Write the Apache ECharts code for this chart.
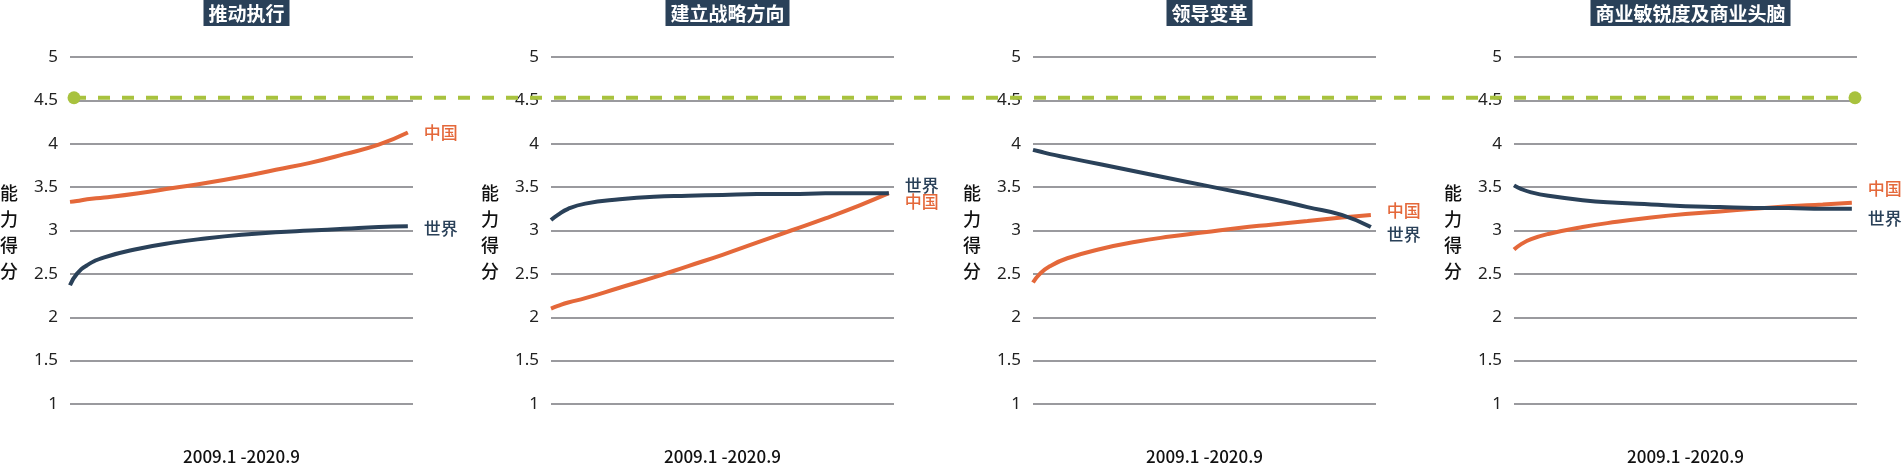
<!DOCTYPE html>
<html><head><meta charset="utf-8">
<script src="https://cdn.jsdelivr.net/npm/echarts@6/dist/echarts.min.js"></script>
<style>html,body{margin:0;padding:0;background:#fff}#c{width:1902px;height:467px}</style>
</head><body><div id="c"></div>
<script>
const titles = ['推动执行','建立战略方向','领导变革','商业敏锐度及商业头脑'];
const xs = [0,2,5,10,20,30,40,50,60,70,80,90,98.5];
const chinaVals = [
  [3.33,3.34,3.36,3.38,3.43,3.49,3.55,3.62,3.70,3.78,3.88,3.99,4.13],
  [2.10,2.13,2.17,2.22,2.34,2.46,2.59,2.72,2.86,3.00,3.14,3.29,3.43],
  [2.40,2.50,2.59,2.68,2.79,2.87,2.93,2.98,3.03,3.07,3.11,3.15,3.18],
  [2.78,2.84,2.90,2.96,3.04,3.10,3.15,3.19,3.22,3.25,3.28,3.30,3.32]
];
const worldVals = [
  [2.37,2.50,2.60,2.69,2.79,2.86,2.91,2.95,2.98,3.00,3.02,3.04,3.05],
  [3.12,3.18,3.25,3.31,3.36,3.39,3.40,3.41,3.42,3.42,3.43,3.43,3.43],
  [3.93,3.91,3.88,3.84,3.76,3.68,3.60,3.52,3.44,3.36,3.27,3.18,3.04],
  [3.52,3.48,3.44,3.40,3.35,3.32,3.30,3.28,3.27,3.26,3.26,3.25,3.25]
];
const benchmark = 4.53;
const yTicks = [1,1.5,2,2.5,3,3.5,4,4.5,5];
const chinaLabelOffset = [[8,0],[8,8],[8,-4],[8,-14]];
const worldLabelOffset = [[8,2],[8,-8],[8,8],[8,10]];

const lefts = [70,551,1033,1514], W = 343, TOP = 57, H = 347;
const orange = '#e4683a', navy = '#2a4159', green = '#a8c23e';
const grids = [], xAxes = [], yAxes = [], series = [], titleArr = [], graphics = [];
lefts.forEach((l,i)=>{
  grids.push({left:l, top:TOP, width:W, height:H, outerBoundsMode:'none', containLabel:false});
  xAxes.push({type:'value', gridIndex:i, min:0, max:100, axisLine:{show:false}, axisTick:{show:false},
    axisLabel:{show:false}, splitLine:{show:false},
    name:'2009.1 -2020.9\n时间', nameLocation:'middle', nameGap:38,
    nameTextStyle:{fontSize:17, color:'#111', fontWeight:500, lineHeight:30, fontFamily:'Noto Sans CJK SC'}});
  yAxes.push({type:'value', gridIndex:i, min:1, max:5, interval:0.5,
    axisLine:{show:false}, axisTick:{show:false},
    axisLabel:{fontSize:17, color:'#222', margin:12, fontFamily:'Noto Sans', formatter:v=>String(v)},
    splitLine:{lineStyle:{color:'#9a9a9e', width:2}}});
  const mk = (vals,color,name,off)=>({type:'line', xAxisIndex:i, yAxisIndex:i, smooth:true, symbol:'none',
    data: xs.map((x,k)=>[x,vals[k]]), lineStyle:{color, width:4}, z:3,
    endLabel:{show:true, formatter:name, color, fontSize:17, fontFamily:'Noto Sans CJK SC', fontWeight:500, offset:off}});
  series.push(mk(chinaVals[i],orange,'中国',chinaLabelOffset[i]));
  series.push(mk(worldVals[i],navy,'世界',worldLabelOffset[i]));
  titleArr.push({text:titles[i], left:l+W/2, textAlign:'center', top:0,
    backgroundColor:navy, padding:[4,5,3,5],
    textStyle:{color:'#fff', fontSize:19, fontWeight:'bold', fontFamily:'Noto Sans CJK SC'}});
  graphics.push({type:'text', left:l-70, top:180,
    style:{text:'能\n力\n得\n分', fontSize:18, lineHeight:26, fill:'#111', fontFamily:'Noto Sans CJK SC', fontWeight:500}});
});
grids.push({left:74, right:47, top:TOP, height:H, outerBoundsMode:'none', containLabel:false});
xAxes.push({type:'value', gridIndex:4, min:0, max:1, show:false});
yAxes.push({type:'value', gridIndex:4, min:1, max:5, show:false});
series.push({type:'line', xAxisIndex:4, yAxisIndex:4, data:[[0,benchmark],[1,benchmark]],
  symbol:'circle', symbolSize:13, itemStyle:{color:green}, lineStyle:{color:green, width:4, type:[12,12]}, z:5});

const chart = echarts.init(document.getElementById('c'));
chart.setOption({animation:false, title:titleArr, grid:grids, xAxis:xAxes, yAxis:yAxes, series, graphic:graphics});
</script></body></html>
